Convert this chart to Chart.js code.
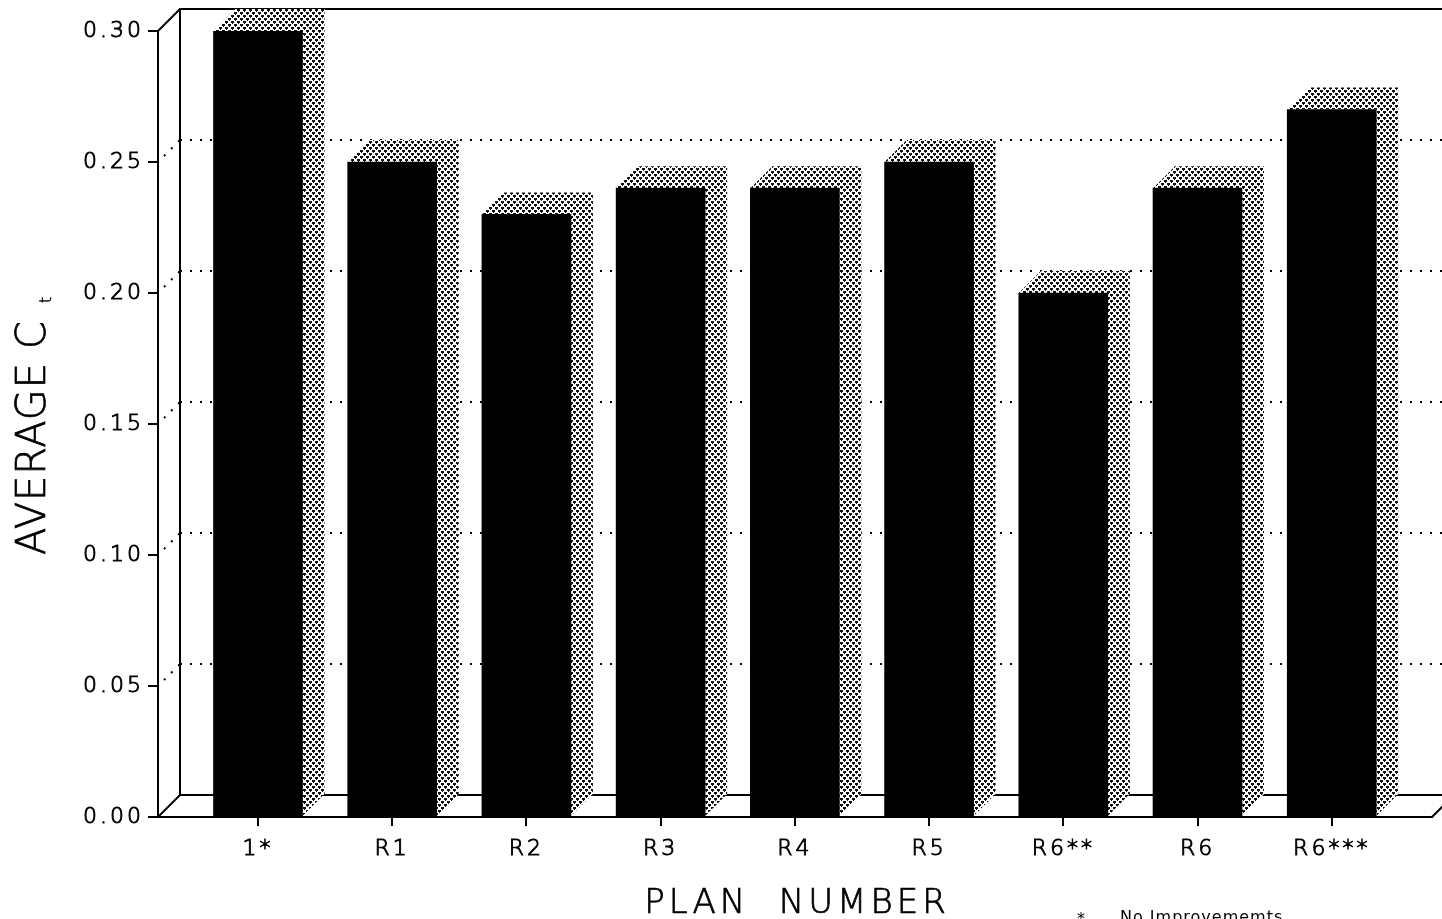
<!DOCTYPE html>
<html>
<head>
<meta charset="utf-8">
<script src="https://cdn.jsdelivr.net/npm/chart.js@4.4.1/dist/chart.umd.min.js"></script>
<style>
  html, body { margin: 0; padding: 0; background: #fff; overflow: hidden; }
  canvas { display: block; }
</style>
</head>
<body>
<canvas id="chart" width="1442" height="919"></canvas>
<script>
// Plan labels and their average Ct values
const planLabels = ['1*', 'R1', 'R2', 'R3', 'R4', 'R5', 'R6**', 'R6', 'R6***'];
const averageCt = [0.30, 0.25, 0.23, 0.24, 0.24, 0.25, 0.20, 0.24, 0.27];
const yTickValues = [0.00, 0.05, 0.10, 0.15, 0.20, 0.25, 0.30];

// Text
const yTitleWord = 'AVERAGE';
const yTitleSymbol = 'C';
const yTitleSub = 't';
const xTitleText = 'PLAN  NUMBER';
const noteMark = '*';
const noteText = 'No Improvememts';

const DEPTH = 22;
const FONT = '"DejaVu Sans ExtraLight", "DejaVu Sans", sans-serif';

// Gray dot-screen fill used for the bar tops and sides
function stipplePattern(ctx) {
  const tile = document.createElement('canvas');
  tile.width = 6; tile.height = 6;
  const g = tile.getContext('2d');
  g.fillStyle = '#fff'; g.fillRect(0, 0, 6, 6);
  g.fillStyle = '#111';
  g.fillRect(0, 0, 3, 2);
  g.fillRect(3, 3, 3, 2);
  g.fillRect(1, 2, 1, 1);
  g.fillRect(4, 5, 1, 1);
  return ctx.createPattern(tile, 'repeat');
}

// Wide letter spacing for the axis tick labels
const textSpacing = {
  id: 'textSpacing',
  beforeUpdate(chart) { chart.ctx.letterSpacing = '3px'; },
  beforeDraw(chart) { chart.ctx.letterSpacing = '3px'; }
};

// Back wall, floor, guide lines and the shaded top/side of every bar
const box3d = {
  id: 'box3d',
  beforeDatasetsDraw(chart) {
    const { ctx, chartArea: a, scales: { y } } = chart;
    const L = a.left, R = a.right, T = a.top, B = a.bottom, d = DEPTH;
    const far = R + d + 60;
    ctx.save();
    ctx.strokeStyle = '#000';
    ctx.lineWidth = 2;

    // dotted guides on the back wall and the left wall
    ctx.setLineDash([2, 8]);
    yTickValues.forEach(v => {
      if (v <= y.min || v >= y.max) return;
      const py = y.getPixelForValue(v);
      ctx.beginPath(); ctx.moveTo(L + d, py - d); ctx.lineTo(far, py - d); ctx.stroke();
      ctx.beginPath(); ctx.moveTo(L + 6, py - 6); ctx.lineTo(L + d, py - d); ctx.stroke();
    });
    ctx.setLineDash([]);

    // box edges
    ctx.beginPath();
    ctx.moveTo(L, T); ctx.lineTo(L + d, T - d); ctx.lineTo(far, T - d);
    ctx.moveTo(L + d, T - d); ctx.lineTo(L + d, B - d); ctx.lineTo(far, B - d);
    ctx.moveTo(L, B); ctx.lineTo(L + d, B - d);
    ctx.moveTo(R, B); ctx.lineTo(R + d, B - d);
    ctx.stroke();

    // top and right faces of the bars
    ctx.fillStyle = stipplePattern(ctx);
    chart.getDatasetMeta(0).data.forEach(bar => {
      const x1 = bar.x - bar.width / 2, x2 = bar.x + bar.width / 2;
      const top = bar.y, base = bar.base;
      ctx.beginPath();
      ctx.moveTo(x1, top);
      ctx.lineTo(x1 + d, top - d);
      ctx.lineTo(x2 + d, top - d);
      ctx.lineTo(x2 + d, base - d);
      ctx.lineTo(x2, base);
      ctx.lineTo(x2, top);
      ctx.closePath();
      ctx.fill();
    });
    ctx.restore();
  }
};

// Filled text with a thin outline so the light face reads as a pen stroke
function penText(ctx, text, x, y, stroke) {
  ctx.fillText(text, x, y);
  ctx.lineWidth = stroke;
  ctx.strokeText(text, x, y);
}

// Axis titles and the footnote
const titles = {
  id: 'titles',
  afterDraw(chart) {
    const ctx = chart.ctx;
    ctx.save();
    ctx.fillStyle = '#000';
    ctx.strokeStyle = '#000';
    ctx.textBaseline = 'alphabetic';

    // vertical title with subscript, word stretched to a 192px run
    ctx.save();
    ctx.translate(45, 555);
    ctx.rotate(-Math.PI / 2);
    ctx.textAlign = 'left';
    ctx.font = `200 40px ${FONT}`;
    ctx.letterSpacing = '0px';
    const plain = ctx.measureText(yTitleWord).width;
    const gap = Math.max(0, (192 - plain) / (yTitleWord.length - 1));
    ctx.letterSpacing = gap.toFixed(2) + 'px';
    penText(ctx, yTitleWord, 0, 0, 0.7);
    ctx.letterSpacing = '0px';
    penText(ctx, yTitleSymbol, 206, 0, 0.7);
    const cw = ctx.measureText(yTitleSymbol).width;
    ctx.font = `200 16px ${FONT}`;
    penText(ctx, yTitleSub, 206 + cw + 18, 6, 0.5);
    ctx.restore();

    // horizontal title
    ctx.textAlign = 'center';
    ctx.letterSpacing = '4px';
    ctx.font = `200 34px ${FONT}`;
    penText(ctx, xTitleText, 797, 913, 0.7);

    // footnote
    ctx.textAlign = 'left';
    ctx.letterSpacing = '1px';
    ctx.font = `16px ${FONT}`;
    ctx.fillText(noteMark, 1077, 924);
    ctx.fillText(noteText, 1120, 922);
    ctx.restore();
  }
};

new Chart(document.getElementById('chart'), {
  type: 'bar',
  data: {
    datasets: [{
      data: averageCt.map((v, i) => ({ x: i, y: v })),
      backgroundColor: '#000',
      borderWidth: 0,
      barThickness: 89
    }]
  },
  options: {
    responsive: false,
    animation: false,
    events: [],
    layout: { padding: { top: 31, right: 10, left: 0, bottom: 0 } },
    plugins: { legend: { display: false }, tooltip: { enabled: false } },
    scales: {
      x: {
        type: 'linear',
        min: -0.745,
        max: 8.747,
        offset: false,
        afterBuildTicks: s => { s.ticks = planLabels.map((_, i) => ({ value: i })); },
        afterFit: s => { s.height = 102; },
        ticks: {
          callback: v => planLabels[v],
          color: '#000',
          font: { family: FONT, size: 22, weight: 200 },
          textStrokeColor: '#000',
          textStrokeWidth: 0.9,
          padding: 10,
          maxRotation: 0,
          autoSkip: false
        },
        grid: { drawOnChartArea: false, drawTicks: true, tickLength: 9, color: '#000', lineWidth: 2, offset: false },
        border: { display: true, color: '#000', width: 2 }
      },
      y: {
        min: 0,
        max: 0.30,
        afterBuildTicks: s => { s.ticks = yTickValues.map(v => ({ value: v })); },
        afterFit: s => { s.width = 158; },
        ticks: {
          callback: v => v.toFixed(2),
          color: '#000',
          font: { family: FONT, size: 22, weight: 200 },
          textStrokeColor: '#000',
          textStrokeWidth: 0.9,
          padding: 4
        },
        grid: { drawOnChartArea: false, drawTicks: true, tickLength: 10, color: '#000', lineWidth: 2 },
        border: { display: true, color: '#000', width: 2 }
      }
    }
  },
  plugins: [textSpacing, box3d, titles]
});
</script>
</body>
</html>
